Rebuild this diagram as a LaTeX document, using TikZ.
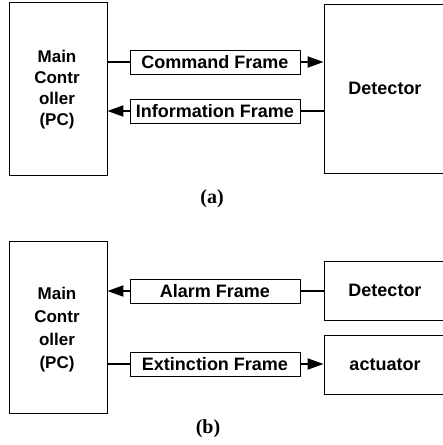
\documentclass[tikz,border=0pt]{standalone}
\usepackage{fontspec}
\setmainfont{Liberation Sans}
\newfontfamily\capfont{Liberation Serif}
\usetikzlibrary{arrows.meta}

\begin{document}
\begin{tikzpicture}[x=1pt,y=-1pt,
  blk/.style={draw, line width=0.9pt, inner sep=0pt,
    font=\fontsize{18}{21}\selectfont\bfseries},
  pclabel/.style={inner sep=0pt, align=center},
  frm/.style={draw, line width=0.9pt, minimum width=170pt, minimum height=24pt,
    inner sep=0pt, font=\fontsize{18}{20}\selectfont\bfseries},
  conn/.style={line width=2pt},
  arr/.style={conn, -{Triangle[length=16pt,width=11pt]}},
  subcap/.style={font=\capfont\bfseries\fontsize{20}{22}\selectfont}
]
\useasboundingbox (0,0) rectangle (443,445);
\clip (0,0) rectangle (443,445);

% ---- (a) controller <-> detector ----
\node[blk, minimum width=98pt, minimum height=173pt] (mca) at (58,88.5) {};
\node[pclabel, font=\fontsize{17}{21}\selectfont\bfseries] (mcatxt) at (57,90)
  {Main\\Contr\\oller\\(PC)};
\node[blk, minimum width=122pt, minimum height=169pt] (deta) at (385,88.5) {Detector};
\node[frm] (cmd) at (215,62) {Command Frame};
\node[frm] (inf) at (215,111) {Information Frame};
\draw[conn] (mca.east |- cmd.west) -- (cmd.west);
\draw[arr] (cmd.east) -- (deta.west |- cmd.east);
\draw[arr] (inf.west) -- (mca.east |- inf.west);
\draw[conn] (inf.east) -- (deta.west |- inf.east);
\node[subcap] (capa) at (212,199) {(a)};

% ---- (b) controller <-> detector / actuator ----
\node[blk, minimum width=98pt, minimum height=172pt] (mcb) at (58,327) {};
\node[pclabel, font=\fontsize{17}{23}\selectfont\bfseries] (mcbtxt) at (57,330)
  {Main\\Contr\\oller\\(PC)};
\node[blk, minimum width=122pt, minimum height=59pt] (detb) at (385,290.5) {Detector};
\node[blk, minimum width=122pt, minimum height=59pt] (act) at (385,364.5) {actuator};
\node[frm] (alm) at (215,291) {Alarm Frame};
\node[frm] (ext) at (215,364) {Extinction Frame};
\draw[arr] (alm.west) -- (mcb.east |- alm.west);
\draw[conn] (alm.east) -- (detb.west |- alm.east);
\draw[conn] (mcb.east |- ext.west) -- (ext.west);
\draw[arr] (ext.east) -- (act.west |- ext.east);
\node[subcap] (capb) at (208,429) {(b)};
\end{tikzpicture}
\end{document}
